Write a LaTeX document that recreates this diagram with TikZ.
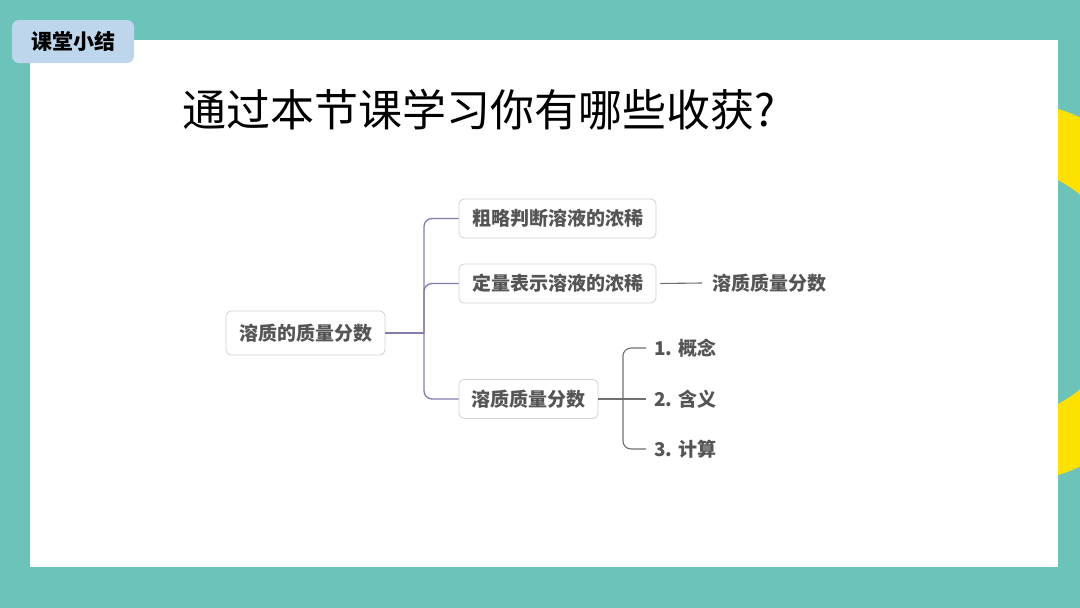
\documentclass[tikz,border=0pt]{standalone}
\usepackage{fontspec}
\setmainfont{Noto Sans CJK SC}
\usetikzlibrary{positioning}
\definecolor{teal1}{HTML}{6CC3B9}
\definecolor{yel}{HTML}{FFE100}
\definecolor{tagblue}{HTML}{BDD6EC}
\definecolor{boxline}{HTML}{D2D2D2}
\definecolor{txt}{HTML}{555555}
\definecolor{purp}{HTML}{817EAE}
\definecolor{graylink}{HTML}{707070}
\begin{document}
\begin{tikzpicture}[x=1pt,y=-1pt,
  mbox/.style={draw=boxline, line width=0.8pt, rounded corners=5pt, fill=white, text=txt, font=\fontsize{19}{21}\selectfont\bfseries, inner xsep=12pt, minimum height=39pt},
  leaf/.style={text=txt, font=\fontsize{19}{21}\selectfont\bfseries, inner sep=2pt, anchor=west},
  conn/.style={draw=purp, line width=1.3pt, rounded corners=8pt},
  gconn/.style={draw=graylink, line width=1.1pt, rounded corners=8pt}]
\useasboundingbox (0,0) rectangle (1080,608);
\fill[teal1] (0,0) rectangle (1080,608);
\begin{scope}
\clip (1058,0) rectangle (1080,608);
\fill[yel, even odd rule] (1000,292) circle[radius=192pt] (1000,292) circle[radius=126pt];
\end{scope}
\fill[white] (30,40) rectangle (1058,567);
\node[fill=tagblue, rounded corners=7pt, minimum width=122pt, minimum height=43pt, font=\fontsize{21}{23}\selectfont\bfseries, text=black] (tag) at (73,41.5) {课堂小结};
\node[font=\fontsize{44}{48}\selectfont, text=black, anchor=west] (title) at (179,110) {通过本节课学习你有哪些收获?};
\node[mbox, minimum width=159pt, minimum height=44pt] (root) at (305.5,333) {溶质的质量分数};
\node[mbox, minimum width=197pt] (A) at (557.5,218.5) {粗略判断溶液的浓稀};
\node[mbox, minimum width=197pt] (B) at (557.5,283.5) {定量表示溶液的浓稀};
\node[mbox, minimum width=139pt] (C) at (528.5,399) {溶质质量分数};
\node[leaf] (B1) at (710,283) {溶质质量分数};
\node[leaf] (c1) at (652,348) {1. 概念};
\node[leaf] (c2) at (652,399) {2. 含义};
\node[leaf] (c3) at (652,449) {3. 计算};
\coordinate (j1) at (424,333);
\coordinate (j2) at (623,399);
\draw[conn] (root.east) -- (j1);
\draw[conn] (j1) |- (A.west);
\draw[conn] (j1) |- (B.west);
\draw[conn] (j1) |- (C.west);
\draw[gconn] (B.east) ++(4,0) -- ([xshift=-8pt]B1.west);
\draw[gconn] (C.east) -- ([xshift=-6pt]c2.west);
\draw[gconn] (j2) |- ([xshift=-6pt]c1.west);
\draw[gconn] (j2) |- ([xshift=-6pt]c3.west);
\end{tikzpicture}
\end{document}
